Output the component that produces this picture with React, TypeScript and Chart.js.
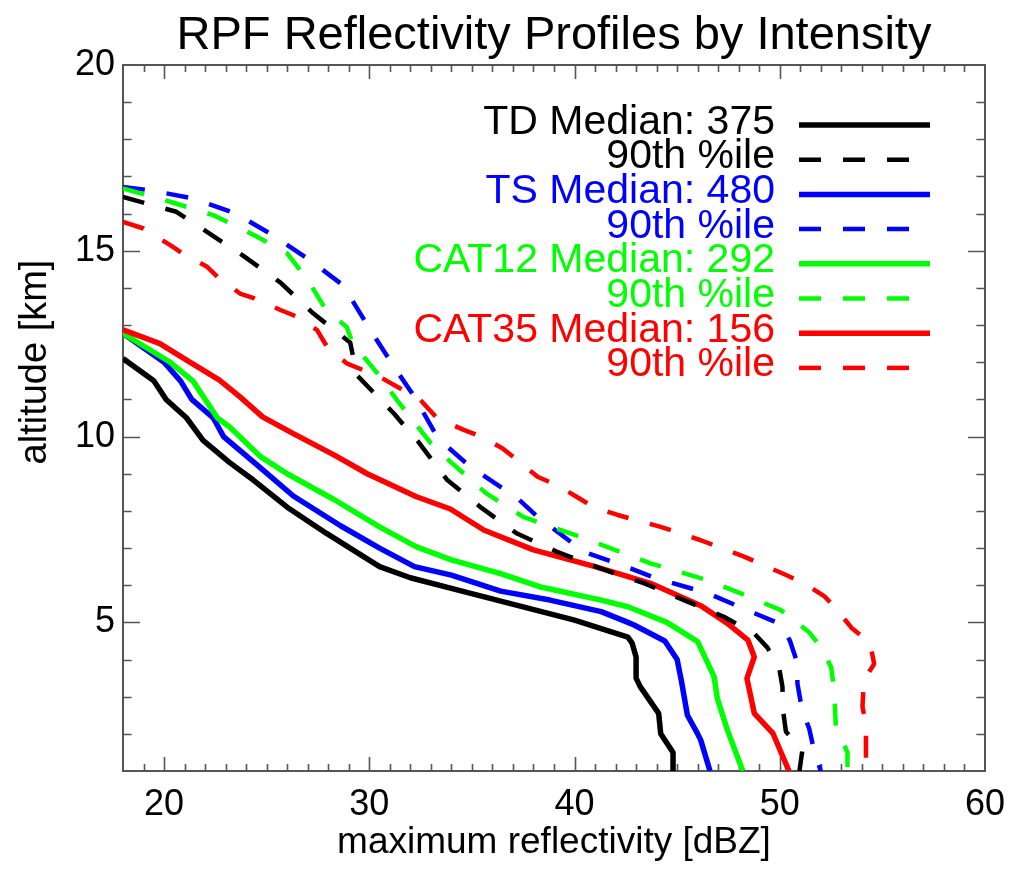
import React, { useEffect, useRef } from "react";
import { Chart, registerables } from "chart.js";

Chart.register(...registerables);

const FONT = '"Liberation Sans", Arial, Helvetica, sans-serif';

const chartTitle = "RPF Reflectivity Profiles by Intensity";
const xAxisTitle = "maximum reflectivity [dBZ]";
const yAxisTitle = "altitude [km]";

const xTickValues = [20, 30, 40, 50, 60];
const yTickValues = [5, 10, 15, 20];

const seriesLabels = [
  "TD Median: 375",
  "90th %ile",
  "TS Median: 480",
  "90th %ile",
  "CAT12 Median: 292",
  "90th %ile",
  "CAT35 Median: 156",
  "90th %ile",
];
const seriesColors = ["#000000", "#000000", "#0000ff", "#0000ff", "#00ff00", "#00ff00", "#ff0000", "#ff0000"];
const seriesDashed = [false, true, false, true, false, true, false, true];

// TD median
const tdMedianAlt = [12.1, 11.5, 11.0, 10.5, 9.9, 9.3, 8.83, 8.1, 7.4, 6.5, 6.2, 5.8, 5.06, 4.6, 4.45, 4.07, 3.5, 3.27, 2.55, 2.0, 1.5, 1.0];
const tdMedianDbz = [18.0, 19.5, 20.1, 21.1, 21.9, 23.2, 24.35, 26.0, 27.9, 30.5, 32.0, 34.8, 40.0, 42.6, 42.8, 43.0, 43.0, 43.2, 44.1, 44.2, 44.8, 44.8];
// TD 90th percentile
const td90Alt = [16.45, 16.05, 15.47, 14.85, 14.15, 13.31, 12.53, 11.65, 10.62, 9.85, 8.83, 8.11, 7.39, 6.9, 6.45, 6.05, 5.6, 5.15, 4.7, 4.32, 3.78, 3.27, 2.55, 2.06, 1.56, 1.0];
const td90Dbz = [18.0, 20.6, 22.2, 23.9, 25.66, 27.28, 29.07, 29.4, 31.2, 32.4, 33.8, 35.4, 37.2, 39.15, 41.27, 43.4, 45.33, 47.28, 48.76, 49.4, 49.97, 50.13, 50.18, 50.3, 51.1, 50.96];
// TS median
const tsMedianAlt = [12.78, 12.0, 11.5, 11.0, 10.5, 10.0, 9.3, 8.4, 7.6, 7.0, 6.5, 6.27, 5.84, 5.6, 5.29, 5.0, 4.93, 4.5, 4.0, 3.45, 2.5, 2.0, 1.83, 1.0];
const tsMedianDbz = [18.0, 20.0, 20.8, 21.35, 22.4, 22.9, 24.4, 26.3, 28.6, 30.5, 32.2, 34.0, 36.4, 38.8, 41.3, 42.6, 42.9, 44.4, 45.0, 45.2, 45.5, 46.0, 46.15, 46.6];
// TS 90th percentile
const ts90Alt = [16.72, 16.63, 16.41, 16.0, 15.42, 14.75, 14.08, 13.76, 12.87, 11.88, 11.07, 10.1, 9.73, 9.2, 8.35, 7.84, 6.9, 6.5, 6.2, 5.78, 5.24, 4.95, 4.5, 3.9, 3.36, 2.6, 2.15, 1.56, 1.0];
const ts90Dbz = [18.0, 19.3, 21.4, 23.5, 25.3, 27.1, 28.7, 29.07, 30.05, 31.2, 32.2, 33.2, 33.8, 34.9, 37.2, 38.2, 40.45, 42.5, 43.9, 46.5, 48.8, 50.05, 50.5, 50.86, 50.86, 51.1, 51.43, 51.67, 52.0];
// CAT12 median
const cat12MedianAlt = [12.78, 12.0, 11.5, 10.5, 10.26, 9.46, 9.0, 8.3, 7.57, 7.03, 6.68, 6.31, 5.96, 5.6, 5.42, 5.0, 4.48, 3.54, 2.95, 2.1, 1.0];
const cat12MedianDbz = [18.0, 20.3, 21.4, 22.6, 23.2, 24.7, 26.0, 28.3, 30.5, 32.3, 34.0, 36.4, 38.3, 41.3, 42.6, 44.5, 46.0, 46.8, 46.96, 47.45, 48.2];
// CAT12 90th percentile
const cat1290Alt = [16.68, 16.32, 15.96, 15.42, 14.93, 14.21, 13.4, 12.95, 12.5, 11.7, 10.98, 10.1, 9.82, 9.3, 8.47, 7.84, 7.3, 6.59, 6.15, 5.78, 5.33, 4.75, 4.34, 3.8, 3.2, 2.2, 1.5, 1.0];
const cat1290Dbz = [18.0, 20.3, 22.4, 24.4, 26.0, 27.0, 27.9, 28.9, 29.2, 30.4, 31.35, 32.6, 33.0, 34.0, 35.7, 37.5, 40.3, 43.7, 46.4, 48.1, 50.05, 51.4, 52.0, 52.5, 52.65, 52.73, 53.3, 53.3];
// CAT35 median
const cat35MedianAlt = [12.87, 12.5, 12.06, 11.52, 11.07, 10.53, 10.08, 9.5, 9.0, 8.38, 8.05, 7.48, 6.95, 6.5, 6.05, 5.45, 4.97, 4.52, 4.07, 3.49, 2.55, 2.01, 1.0];
const cat35MedianDbz = [18.0, 19.8, 21.1, 22.7, 23.7, 24.8, 26.3, 28.3, 29.9, 32.3, 33.95, 35.6, 38.0, 41.0, 43.7, 46.15, 47.45, 48.45, 48.76, 48.4, 48.76, 49.67, 50.45];
// CAT35 90th percentile
const cat3590Alt = [15.78, 15.6, 15.15, 14.93, 14.57, 14.3, 13.85, 13.72, 13.4, 13.22, 12.87, 12.42, 11.97, 11.61, 10.98, 10.5, 10.18, 9.99, 9.68, 9.37, 8.92, 8.69, 8.38, 8.11, 7.89, 7.57, 7.21, 6.77, 6.3, 6.05, 5.69, 5.33, 4.85, 4.45, 3.88, 3.45, 2.73, 2.25, 1.0];
const cat3590Dbz = [18.0, 19.0, 20.3, 20.9, 22.1, 22.6, 23.7, 24.4, 25.7, 26.5, 27.45, 27.94, 28.9, 30.5, 32.5, 33.3, 34.6, 35.5, 36.5, 37.2, 38.2, 39.15, 40.1, 40.9, 42.1, 44.2, 46.15, 48.26, 50.2, 51.2, 52.2, 52.8, 53.5, 54.4, 54.6, 54.1, 54.03, 54.2, 54.2];

const seriesAlt = [tdMedianAlt, td90Alt, tsMedianAlt, ts90Alt, cat12MedianAlt, cat1290Alt, cat35MedianAlt, cat3590Alt];
const seriesDbz = [tdMedianDbz, td90Dbz, tsMedianDbz, ts90Dbz, cat12MedianDbz, cat1290Dbz, cat35MedianDbz, cat3590Dbz];
// drawing order: medians first, then 90th percentiles (later = on top)
const seriesDrawRank = [0, 4, 1, 5, 2, 6, 3, 7];

const AXIS_COLOR = "#555555";

const decorPlugin = {
  id: "decor",
  beforeDatasetsDraw(chart: any) {
    const { ctx, chartArea, scales } = chart;
    const { left, right, top, bottom } = chartArea;
    const xs = scales.x;
    const ys = scales.y;
    ctx.save();
    ctx.strokeStyle = AXIS_COLOR;
    ctx.lineWidth = 2;
    ctx.strokeRect(left, top, right - left, bottom - top);
    ctx.beginPath();
    for (let v = Math.ceil(xs.min); v < xs.max; v += 1) {
      if (v <= xs.min) continue;
      const px = Math.round(xs.getPixelForValue(v)) + 0.5;
      const len = v % 10 === 0 ? 14 : 7;
      ctx.moveTo(px, bottom);
      ctx.lineTo(px, bottom - len);
      ctx.moveTo(px, top);
      ctx.lineTo(px, top + len);
    }
    for (let v = Math.ceil(ys.min); v < ys.max; v += 1) {
      if (v <= ys.min) continue;
      const py = Math.round(ys.getPixelForValue(v)) + 0.5;
      const len = v % 5 === 0 ? 17 : 8.6;
      ctx.moveTo(left, py);
      ctx.lineTo(left + len, py);
      ctx.moveTo(right, py);
      ctx.lineTo(right - len, py);
    }
    ctx.lineWidth = 1.6;
    ctx.stroke();
    ctx.restore();
  },
  afterDraw(chart: any) {
    const { ctx, chartArea } = chart;
    const { left, right } = chartArea;
    const cx = (left + right) / 2;
    ctx.save();
    ctx.fillStyle = "#000";
    ctx.textAlign = "center";
    ctx.textBaseline = "alphabetic";
    ctx.font = `47px ${FONT}`;
    ctx.fillText(chartTitle, cx, 49);

    ctx.font = `37px ${FONT}`;
    ctx.fillText(xAxisTitle, cx, 853);

    ctx.save();
    ctx.translate(46, 362);
    ctx.rotate(-Math.PI / 2);
    ctx.font = `38px ${FONT}`;
    ctx.textAlign = "center";
    ctx.fillText(yAxisTitle, 0, 0);
    ctx.restore();

    // legend
    const rowGap = 34.7;
    const textRight = 775;
    const sampleStart = 799;
    const sampleEnd = 930;
    ctx.font = `41px ${FONT}`;
    ctx.textAlign = "right";
    for (let i = 0; i < seriesLabels.length; i++) {
      const ly = 125 + i * rowGap;
      ctx.fillStyle = seriesColors[i];
      ctx.fillText(seriesLabels[i], textRight, ly + 8.5);
      ctx.beginPath();
      ctx.strokeStyle = seriesColors[i];
      ctx.lineWidth = seriesDashed[i] ? 4.5 : 5.5;
      ctx.setLineDash(seriesDashed[i] ? [22, 22] : []);
      ctx.moveTo(sampleStart, ly);
      ctx.lineTo(sampleEnd, ly);
      ctx.stroke();
    }
    ctx.restore();
  },
};

export default function App() {
  const ref = useRef<HTMLCanvasElement>(null);

  useEffect(() => {
    document.body.style.margin = "0";
    const canvas = ref.current;
    if (!canvas) return;

    const datasets = seriesLabels.map((label, i) => ({
      label,
      data: seriesAlt[i].map((a, k) => ({ x: seriesDbz[i][k], y: a })),
      borderColor: seriesColors[i],
      backgroundColor: seriesColors[i],
      borderWidth: seriesDashed[i] ? 4.5 : 5.5,
      borderDash: seriesDashed[i] ? [22, 22] : [],
      borderJoinStyle: "bevel" as const,
      showLine: true,
      pointRadius: 0,
      pointHoverRadius: 0,
      fill: false,
      tension: 0,
      order: 7 - seriesDrawRank[i],
    }));

    const chart = new Chart(canvas, {
      type: "scatter",
      data: { datasets },
      options: {
        responsive: false,
        animation: false,
        devicePixelRatio: 1,
        layout: { padding: { left: 0, top: 65, right: 25, bottom: 0 } },
        plugins: {
          legend: { display: false },
          tooltip: { enabled: false },
          title: { display: false },
        },
        scales: {
          x: {
            type: "linear",
            position: "bottom",
            min: 18,
            max: 60,
            grid: { display: false, drawTicks: false },
            border: { display: false },
            ticks: { font: { family: FONT, size: 36 }, color: "#000", padding: 12, maxRotation: 0 },
            afterBuildTicks: (s: any) => {
              s.ticks = xTickValues.map((v) => ({ value: v }));
            },
            afterFit: (s: any) => {
              s.height = 98;
              s.paddingLeft = 0;
              s.paddingRight = 0;
            },
          },
          y: {
            type: "linear",
            position: "left",
            min: 1,
            max: 20,
            grid: { display: false, drawTicks: false },
            border: { display: false },
            ticks: { font: { family: FONT, size: 36 }, color: "#000", padding: 8 },
            afterBuildTicks: (s: any) => {
              s.ticks = yTickValues.map((v) => ({ value: v }));
            },
            afterFit: (s: any) => {
              s.width = 123;
              s.paddingTop = 0;
              s.paddingBottom = 0;
            },
          },
        },
      },
      plugins: [decorPlugin],
    });

    return () => chart.destroy();
  }, []);

  return (
    <div style={{ width: 1010, height: 869, background: "#fff" }}>
      <canvas ref={ref} width={1010} height={869} style={{ display: "block" }} />
    </div>
  );
}
